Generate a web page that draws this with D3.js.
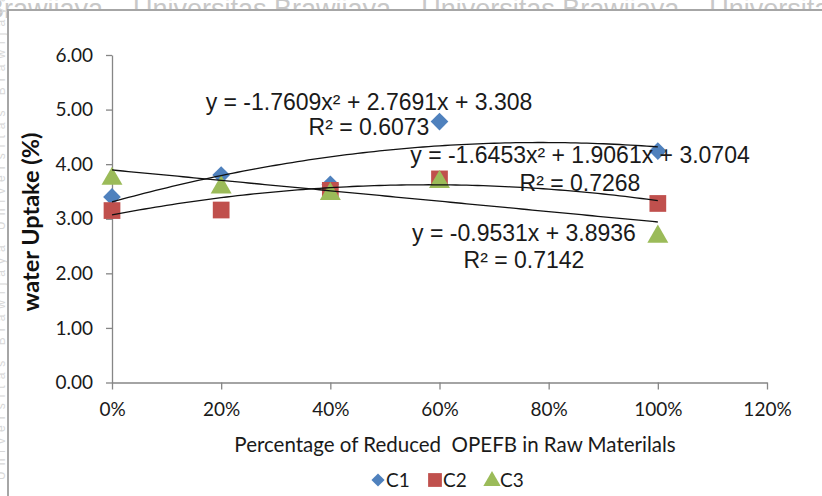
<!DOCTYPE html>
<html>
<head>
<meta charset="utf-8">
<script src="https://cdn.jsdelivr.net/npm/d3@7"></script>
<style>
  html, body { margin: 0; padding: 0; background: #fff; }
  svg { display: block; }
</style>
</head>
<body>
<svg id="chart"></svg>
<script>
// water uptake vs reduced OPEFB - scatter with Excel style trendlines

const PCT = [0, 0.2, 0.4, 0.6, 1.0];
const C1 = [3.40, 3.80, 3.63, 4.78, 4.24];
const C2 = [3.15, 3.16, 3.52, 3.73, 3.28];
const C3 = [3.77, 3.61, 3.49, 3.71, 2.71];

// trendline coefficients as printed on the chart: [c0, c1, c2]
const TREND_C1 = [3.308, 2.7691, -1.7609];
const TREND_C2 = [3.0704, 1.9061, -1.6453];
const TREND_C3 = [3.8936, -0.9531, 0];

const EQ_LABELS = [
  "y = -1.7609x² + 2.7691x + 3.308",
  "y = -1.6453x² + 1.9061x + 3.0704",
  "y = -0.9531x + 3.8936"
];
const R2_LABELS = ["R² = 0.6073", "R² = 0.7268", "R² = 0.7142"];

const X_TICKS = [0, 0.2, 0.4, 0.6, 0.8, 1.0, 1.2];
const Y_TICKS = [0, 1, 2, 3, 4, 5, 6];
const SERIES_NAMES = ["C1", "C2", "C3"];

const W = 822, H = 496;
const COLORS = ["#4F81BD", "#C0504D", "#9BBB59"];
const SYMBOLS = [d3.symbolDiamond2, d3.symbolSquare, d3.symbolTriangle];
const CAL = "Lato, 'Open Sans', sans-serif";
const ARIAL = "'Liberation Sans', Arial, sans-serif";

const svg = d3.select("#chart").attr("width", W).attr("height", H);

// ── Watermark + frame ─────────────────────────────────────────
svg.append("text")
  .attr("x", -14).attr("y", 18)
  .attr("fill", "#c8c8c8")
  .attr("font-family", ARIAL).attr("font-size", 27)
  .attr("xml:space", "preserve")
  .text("Brawijaya    Universitas Brawijaya    Universitas Brawijaya    Universitas");

svg.append("text")
  .attr("transform", "translate(5,480) rotate(-90)")
  .attr("fill", "#d8d8d8")
  .attr("font-family", ARIAL).attr("font-size", 12)
  .attr("letter-spacing", 6)
  .text("Universitas Brawijaya Universitas Brawijaya Universitas");

svg.append("rect")
  .attr("x", 8).attr("y", 10).attr("width", W).attr("height", H)
  .attr("fill", "#fff").attr("stroke", "#a6a6a6").attr("stroke-width", 2);

// ── Scales ────────────────────────────────────────────────────
const x = d3.scaleLinear().domain([0, 1.2]).range([112, 767]);
const y = d3.scaleLinear().domain([0, 6]).range([382.5, 55]);

// ── Axes ──────────────────────────────────────────────────────
const styleAxis = g => g
  .call(a => a.select(".domain").attr("stroke", "#868686").attr("stroke-width", 1.3))
  .call(a => a.selectAll(".tick line").attr("stroke", "#868686").attr("stroke-width", 1.3))
  .call(a => a.selectAll("text")
    .attr("fill", "#1a1a1a").attr("font-family", CAL).attr("font-size", 19));

svg.append("g")
  .attr("transform", `translate(0,${y(0)})`)
  .call(d3.axisBottom(x).tickValues(X_TICKS).tickFormat(d3.format(".0%"))
    .tickSize(7).tickSizeOuter(0).tickPadding(13))
  .call(styleAxis);

svg.append("g")
  .attr("transform", `translate(${x(0)},0)`)
  .call(d3.axisLeft(y).tickValues(Y_TICKS).tickFormat(d3.format(".2f"))
    .tickSize(6).tickSizeOuter(0).tickPadding(13))
  .call(styleAxis);

// axis titles
svg.append("text")
  .attr("x", 455).attr("y", 452)
  .attr("text-anchor", "middle")
  .attr("fill", "#1a1a1a").attr("font-family", CAL).attr("font-size", 20.5)
  .attr("xml:space", "preserve")
  .text("Percentage of Reduced  OPEFB in Raw Materilals");

svg.append("text")
  .attr("transform", "translate(39,222) rotate(-90)")
  .attr("text-anchor", "middle")
  .attr("fill", "#111").attr("font-family", CAL).attr("font-size", 23.5)
  .attr("font-weight", 700)
  .text("water Uptake (%)");

// ── Markers ───────────────────────────────────────────────────
[C1, C2, C3].forEach((vals, i) => {
  svg.append("g").selectAll("path").data(vals).join("path")
    .attr("transform", (v, j) => `translate(${x(PCT[j])},${y(v) + (i === 2 ? 2 : 0)})`)
    .attr("d", d3.symbol().type(SYMBOLS[i]).size(i === 0 ? 200 : i === 1 ? 280 : 190))
    .attr("fill", COLORS[i]);
});

// ── Trendlines ────────────────────────────────────────────────
const xs = d3.range(0, 1.0001, 0.01);
const line = d3.line().x(d => x(d[0])).y(d => y(d[1]));
[TREND_C1, TREND_C2, TREND_C3].forEach(c => {
  svg.append("path")
    .attr("d", line(xs.map(t => [t, c[0] + c[1] * t + c[2] * t * t])))
    .attr("fill", "none").attr("stroke", "#111").attr("stroke-width", 1.3);
});

// ── Trendline labels ──────────────────────────────────────────
const LABEL_POS = [[369, 110, 135], [580, 163, 191], [524, 241, 268]];
EQ_LABELS.forEach((t, i) => {
  const [cx, y1, y2] = LABEL_POS[i];
  [[t, y1], [R2_LABELS[i], y2]].forEach(([s, yy]) => {
    svg.append("text")
      .attr("x", cx).attr("y", yy)
      .attr("text-anchor", "middle")
      .attr("fill", "#1a1a1a").attr("font-family", ARIAL).attr("font-size", 23)
      .text(s);
  });
});

// ── Legend ────────────────────────────────────────────────────
const LEG_X = [378, 435, 492];
SERIES_NAMES.forEach((n, i) => {
  svg.append("path")
    .attr("transform", `translate(${LEG_X[i]},${480 + (i === 2 ? 1 : 0)})`)
    .attr("d", d3.symbol().type(SYMBOLS[i]).size(i === 0 ? 110 : i === 1 ? 190 : 130))
    .attr("fill", COLORS[i]);
  svg.append("text")
    .attr("x", LEG_X[i] + 8).attr("y", 487)
    .attr("fill", "#1a1a1a").attr("font-family", CAL).attr("font-size", 19)
    .text(n);
});
</script>
</body>
</html>
